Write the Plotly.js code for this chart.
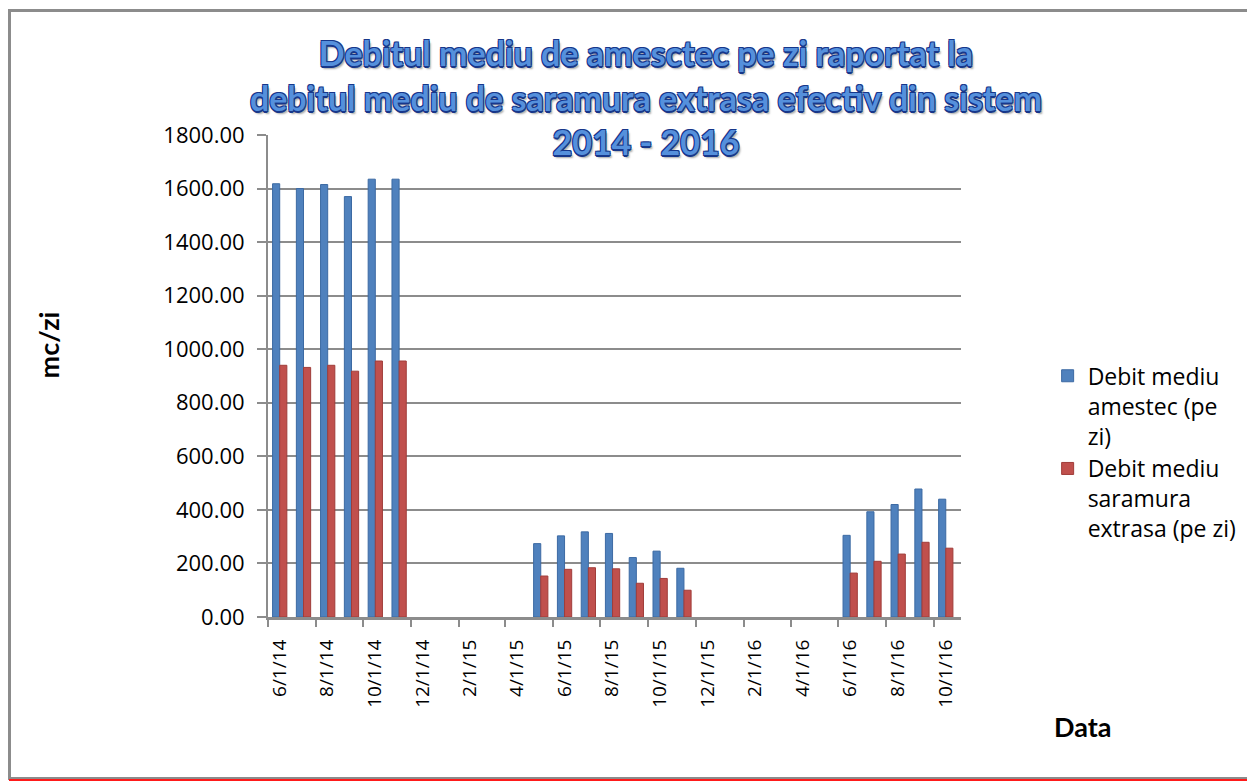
<!DOCTYPE html>
<html>
<head>
<meta charset="utf-8">
<script src="https://cdn.plot.ly/plotly-3.0.1.min.js"></script>
<style>
  html, body { margin: 0; padding: 0; background: #ffffff; width: 1247px; height: 781px; overflow: hidden; }
  #frame { position: absolute; left: 8px; top: 9px; width: 1300px; height: 771px; border: 3px solid #8c8c8c; box-sizing: border-box; }
  #redline { position: absolute; left: 9px; top: 779px; width: 1238px; height: 2px; background: #ff1a1a; }
  #chart { position: absolute; left: 0; top: 0; width: 1247px; height: 781px; }
</style>
</head>
<body>
<div id="frame"></div>
<div id="redline"></div>
<div id="chart"></div>
<script>
// Months with data (bars are drawn in the middle of each month)
const months = [
  "2014-06-01","2014-07-01","2014-08-01","2014-09-01","2014-10-01","2014-11-01",
  "2015-05-01","2015-06-01","2015-07-01","2015-08-01","2015-09-01","2015-10-01","2015-11-01",
  "2016-06-01","2016-07-01","2016-08-01","2016-09-01","2016-10-01"
];
const debitAmestec = [
  1618, 1600, 1615, 1570, 1635, 1635,
  274, 303, 318, 312, 222, 246, 182,
  305, 393, 420, 478, 440
];
const debitSaramura = [
  940, 932, 940, 918, 956, 956,
  153, 178, 184, 180, 126, 144, 100,
  164, 208, 235, 279, 257
];
const seriesNames = ["Debit mediu<br>amestec (pe<br>zi)", "Debit mediu<br>saramura<br>extrasa (pe zi)"];
// Tick labels (placed in the middle of the labelled month)
const tickPositions = [
  "2014-06-16","2014-08-16","2014-10-16","2014-12-16","2015-02-15","2015-04-16",
  "2015-06-16","2015-08-16","2015-10-16","2015-12-16","2016-02-15","2016-04-16",
  "2016-06-16","2016-08-16","2016-10-16"
];
const tickLabels = [
  "6/1/14","8/1/14","10/1/14","12/1/14","2/1/15","4/1/15",
  "6/1/15","8/1/15","10/1/15","12/1/15","2/1/16","4/1/16",
  "6/1/16","8/1/16","10/1/16"
];
const xRange = ["2014-06-01", "2016-11-05"];
const yTicks = [0, 200, 400, 600, 800, 1000, 1200, 1400, 1600, 1800];

const traces = [
  {
    type: "bar", name: seriesNames[0], x: months, y: debitAmestec,
    xperiod: "M1", xperiodalignment: "middle",
    marker: { color: "#4f81bd", line: { color: "#3c6aa3", width: 1 } }
  },
  {
    type: "bar", name: seriesNames[1], x: months, y: debitSaramura,
    xperiod: "M1", xperiodalignment: "middle",
    marker: { color: "#c0504d", line: { color: "#a03d3a", width: 1 } }
  }
];

const gray = "#8c8c8c";
const layout = {
  width: 1247, height: 781, autosize: false,
  margin: { l: 268, r: 286, t: 135, b: 164, pad: 0, autoexpand: false },
  paper_bgcolor: "rgba(0,0,0,0)", plot_bgcolor: "rgba(0,0,0,0)",
  barmode: "group", bargap: 0.40, bargroupgap: 0,
  showlegend: true,
  title: {
    text: "Debitul mediu de amesctec pe zi raportat la<br>debitul mediu de saramura extrasa efectiv din sistem<br>2014 - 2016",
    xref: "container", x: 0.518, xanchor: "center",
    yref: "container", y: 0.915, yanchor: "top",
    font: {
      family: "Lato", size: 34, weight: 700, color: "#5590dc",
      shadow: "-1px -1px 0 #17378a, 1px -1px 0 #17378a, -1px 1px 0 #17378a, 1px 1px 0 #17378a, 0px 2px 0 #17378a, 2px 3px 2px rgba(0,0,0,0.35)"
    }
  },
  xaxis: {
    type: "date", range: xRange, fixedrange: true, automargin: false,
    tickmode: "array", tickvals: tickPositions, ticktext: tickLabels,
    ticks: "", tickangle: -90, ticklabelstandoff: 12,
    tickfont: { family: "Open Sans", size: 19, color: "#000" },
    showgrid: false, zeroline: false,
    showline: true, linecolor: gray, linewidth: 3,
    minor: { dtick: "M2", tick0: "2014-06-01", ticks: "outside", ticklen: 7, tickwidth: 2, tickcolor: gray, showgrid: false }
  },
  yaxis: {
    range: [0, 1800], fixedrange: true, automargin: false,
    tickmode: "array", tickvals: yTicks, tickformat: ".2f",
    ticks: "outside", ticklen: 9, tickwidth: 2, tickcolor: gray,
    ticklabelstandoff: 8,
    tickfont: { family: "Open Sans", size: 22, color: "#000" },
    showgrid: true, gridcolor: gray, gridwidth: 2,
    zeroline: false, showline: true, linecolor: gray, linewidth: 2
  },
  legend: {
    x: 1.125, xanchor: "left", y: 0.545, yanchor: "top",
    valign: "top", bgcolor: "rgba(0,0,0,0)", borderwidth: 0,
    font: { family: "Open Sans", size: 23, color: "#000" },
    tracegroupgap: 0, itemwidth: 30
  },
  annotations: [
    {
      text: "mc/zi", xref: "paper", yref: "paper", x: -0.317, y: 0.564,
      xanchor: "center", yanchor: "middle", textangle: -90, showarrow: false,
      font: { family: "Lato", size: 27, weight: 700, color: "#000" }
    },
    {
      text: "Data", xref: "paper", yref: "paper", x: 1.176, y: -0.228,
      xanchor: "center", yanchor: "middle", showarrow: false,
      font: { family: "Lato", size: 27, weight: 700, color: "#000" }
    }
  ]
};

Plotly.newPlot("chart", traces, layout, { staticPlot: true, displayModeBar: false });
</script>
</body>
</html>
